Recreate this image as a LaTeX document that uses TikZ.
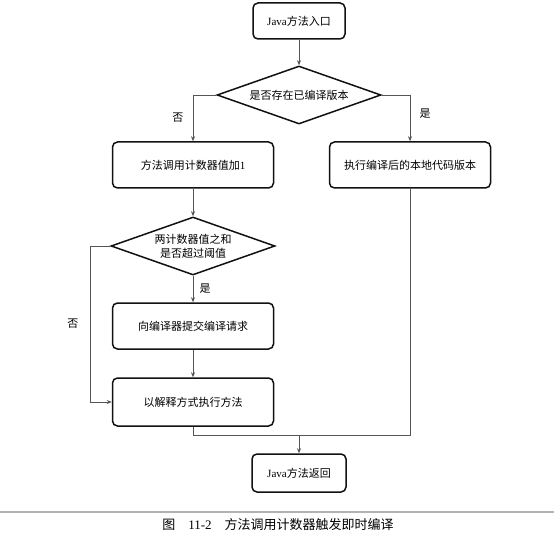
\documentclass[tikz,border=0pt]{standalone}
\usepackage{fontspec}
\setmainfont{Liberation Serif}
\newfontfamily\cjk{Noto Sans CJK SC}
\usepackage{tikz}
\usetikzlibrary{arrows.meta,shapes.geometric,calc}
\definecolor{edge}{HTML}{111111}
\definecolor{wire}{HTML}{555555}
\tikzset{
  stepbox/.style={draw=edge,line width=1.5pt,rounded corners=5pt,fill=white,
                  minimum width=#1,minimum height=46pt,inner sep=2pt,align=center,font=\cjk\fontsize{11}{13}\selectfont},
  stepbox/.default=161pt,
  decide/.style={draw=edge,line width=1.5pt,diamond,aspect=2.8,inner sep=0pt,minimum width=164pt,minimum height=58pt,
                 align=center,font=\cjk\fontsize{11}{14}\selectfont},
  flow/.style={-{Stealth[length=5pt,width=4pt]},draw=wire,line width=0.7pt},
  wireln/.style={draw=wire,line width=0.7pt},
  lbl/.style={font=\cjk\fontsize{11}{13}\selectfont},
}

\begin{document}
\begin{tikzpicture}[x=1pt,y=-1pt]
  \useasboundingbox (0,0) rectangle (554,537);
  \node[stepbox=92pt,minimum height=36pt] (entry) at (299,21) {{\rmfamily Java}方法入口};
  \node[decide] (hasver) at (299,95) {是否存在已编译版本};
  \node[stepbox] (inc) at (193,165) {方法调用计数器值加{\rmfamily 1}};
  \node[stepbox] (native) at (410,165) {执行编译后的本地代码版本};
  \node[decide] (over) at (193,246) {两计数器值之和\\是否超过阈值};
  \node[stepbox] (submit) at (193,326) {向编译器提交编译请求};
  \node[stepbox,minimum height=48pt] (interp) at (193,402) {以解释方式执行方法};
  \node[stepbox=94pt,minimum height=38pt] (ret) at (299,473) {{\rmfamily Java}方法返回};

  \coordinate (lft) at (90,0);
  \coordinate (merge) at (299,435);

  \draw[flow] (entry) -- (hasver);
  \draw[flow] (hasver.west) -| (inc.north) node[lbl,pos=0.75,left=6pt] {否};
  \draw[flow] (hasver.east) -| (native.north) node[lbl,pos=0.7,right=6pt] {是};
  \draw[flow] (inc) -- (over);
  \draw[flow] (over) -- node[lbl,right=3pt] {是} (submit);
  \draw[flow] (submit) -- (interp);
  \draw[flow] (over.west) -- (over.west -| lft) |- node[lbl,pos=0.25,left=8pt] {否} (interp.west);
  \draw[wireln] (interp.south) |- (merge);
  \draw[wireln] (native.south) |- (merge);
  \draw[flow] (merge) -- (ret);

  % caption
  \draw[gray!60,line width=2.5pt] (0,512) -- (554,512);
  \node[font=\fontsize{13}{15}\selectfont] (cap) at (278,525) {{\cjk 图}\quad 11-2\quad {\cjk 方法调用计数器触发即时编译}};
\end{tikzpicture}
\end{document}
